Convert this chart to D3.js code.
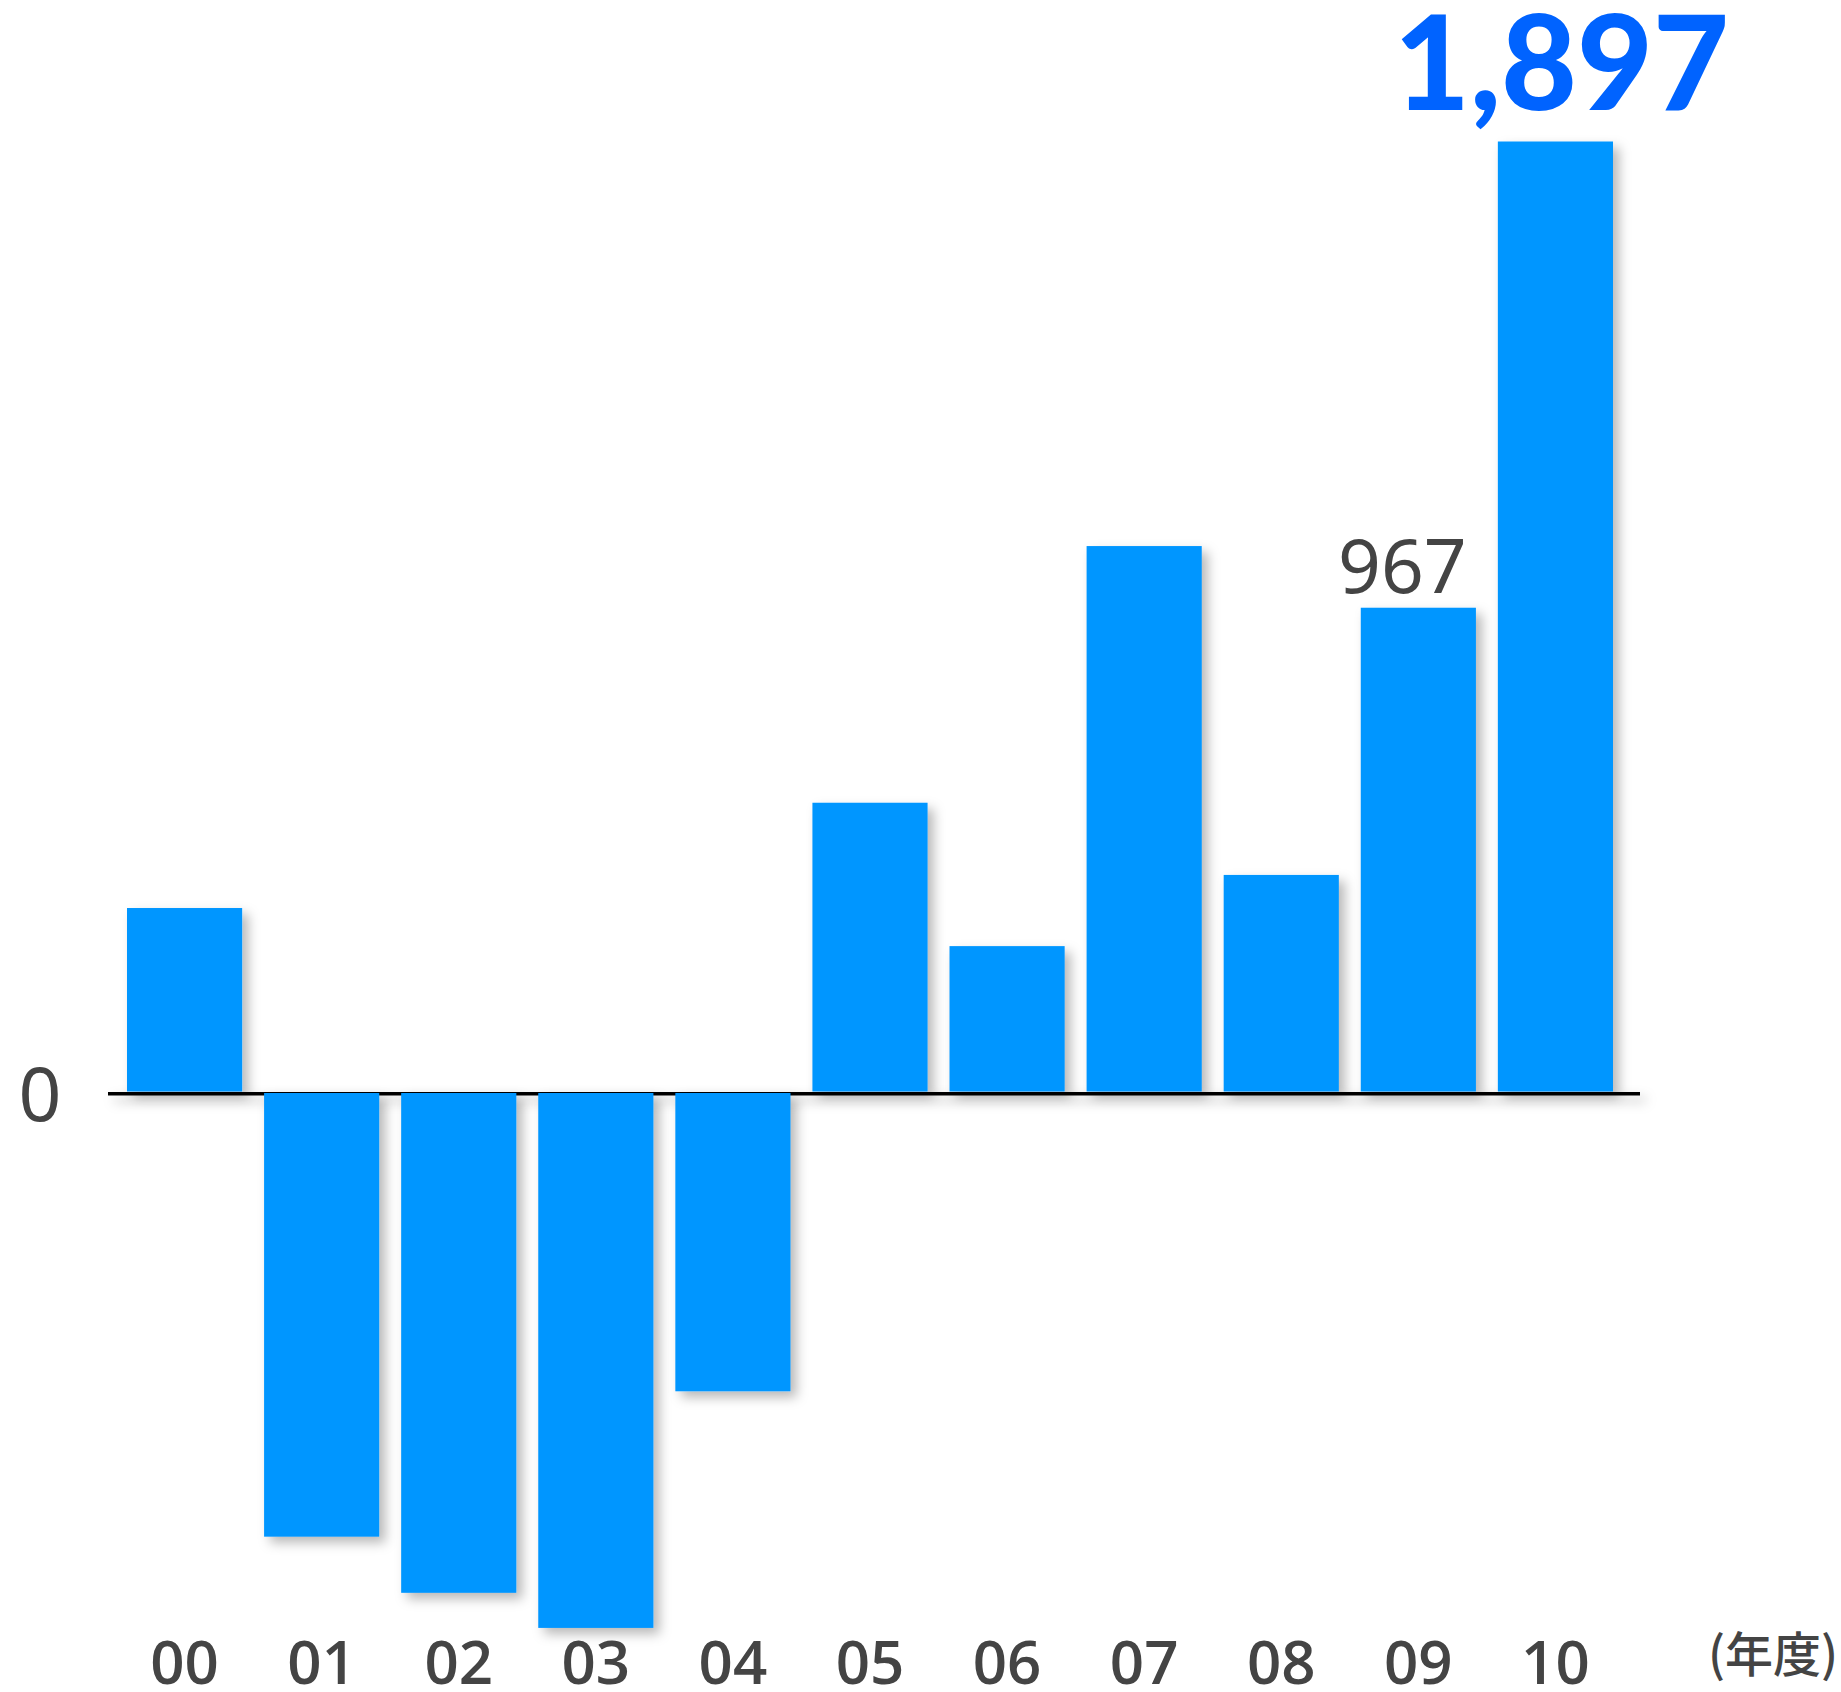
<!DOCTYPE html>
<html>
<head>
<meta charset="utf-8">
<script src="https://cdn.jsdelivr.net/npm/d3@7"></script>
<style>
  html, body { margin: 0; padding: 0; background: #fff; }
  svg { display: block; }
</style>
</head>
<body>
<svg width="1841" height="1692"></svg>
<script>
const svg = d3.select("svg");

// data
const years = ["00", "01", "02", "03", "04", "05", "06", "07", "08", "09", "10"];
const values = [368, -885, -997, -1067, -595, 578, 292, 1090, 434, 967, 1897];
const labelled = ["09", "10"];
const unitLabel = "(年度)";

const data = years.map((y, i) => ({year: y, value: values[i]}));

const x = d3.scaleBand()
  .domain(years)
  .range([127, 1613])
  .paddingInner(0.16)
  .paddingOuter(0);

const y = d3.scaleLinear()
  .domain([0, 1897])
  .range([1092.5, 141.5]);

// soft drop shadow under the bars and the zero line
const defs = svg.append("defs");
const shadow = defs.append("filter")
  .attr("id", "shadow")
  .attr("filterUnits", "userSpaceOnUse")
  .attr("x", 0).attr("y", 0)
  .attr("width", 1841).attr("height", 1692);
shadow.append("feDropShadow")
  .attr("dx", 6)
  .attr("dy", 6)
  .attr("stdDeviation", 6)
  .attr("flood-color", "#000")
  .attr("flood-opacity", 0.28);

// zero line, drawn behind the bars
svg.append("rect")
  .attr("x", 108)
  .attr("width", 1640 - 108)
  .attr("y", y(0) - 0.5)
  .attr("height", 3.5)
  .attr("fill", "#000")
  .attr("filter", "url(#shadow)");

svg.append("text")
  .attr("x", 40)
  .attr("y", y(0) + 28)
  .attr("text-anchor", "middle")
  .attr("font-family", "'Noto Sans', sans-serif")
  .attr("font-size", 75)
  .attr("fill", "#444")
  .text("0");

// bars
svg.append("g")
  .selectAll("rect")
  .data(data)
  .join("rect")
    .attr("x", d => x(d.year))
    .attr("width", x.bandwidth())
    .attr("y", d => d.value >= 0 ? y(d.value) : y(0) + 0.5)
    .attr("height", d => Math.abs(y(d.value) - y(0)) - (d.value >= 0 ? 1 : 0))
    .attr("fill", "#0096ff")
    .attr("filter", "url(#shadow)");

// year labels
svg.append("g")
  .selectAll("text")
  .data(years)
  .join("text")
    .attr("x", d => x(d) + x.bandwidth() / 2)
    .attr("y", 1684)
    .attr("text-anchor", "middle")
    .attr("font-family", "'Open Sans', sans-serif")
    .attr("font-weight", 600)
    .attr("font-size", 60)
    .attr("fill", "#444")
    .text(d => d);

svg.append("text")
  .attr("x", 1773)
  .attr("y", 1672)
  .attr("text-anchor", "middle")
  .attr("font-family", "'Noto Sans CJK JP', sans-serif")
  .attr("font-weight", 500)
  .attr("font-size", 48)
  .attr("fill", "#444")
  .text(unitLabel);

// value labels
const fmt = d3.format(",");
const last = data[data.length - 1];
const prev = data.find(d => d.year === labelled[0]);

svg.append("text")
  .attr("x", x(prev.year) + x.bandwidth() / 2 - 16)
  .attr("y", y(prev.value) - 15)
  .attr("text-anchor", "middle")
  .attr("font-family", "'Noto Sans', sans-serif")
  .attr("font-size", 75)
  .attr("fill", "#444")
  .text(fmt(prev.value));

svg.append("text")
  .attr("x", x(last.year) + x.bandwidth() / 2 + 6)
  .attr("y", y(last.value) - 32)
  .attr("text-anchor", "middle")
  .attr("font-family", "Lato, sans-serif")
  .attr("font-weight", 900)
  .attr("font-size", 131)
  .attr("fill", "#0063ff")
  .text(fmt(last.value));
</script>
</body>
</html>
